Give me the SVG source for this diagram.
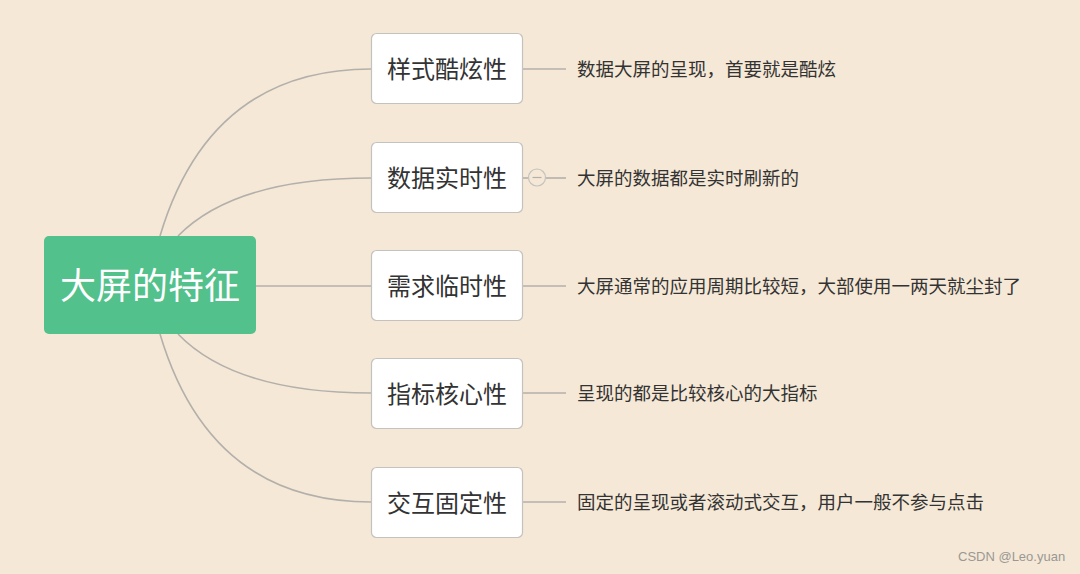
<svg xmlns="http://www.w3.org/2000/svg" width="1080" height="574" viewBox="0 0 1080 574">
<style>
.bg{fill:#f5e8d6}
.conn{fill:none;stroke:#b3b0ab;stroke-width:1.6}
.box{fill:#ffffff;stroke:#c4c2bf;stroke-width:1.2}
.t{font-family:"Noto Sans CJK SC","Noto Sans",sans-serif;fill:#333333}
.bt{font-size:24px}
.lt{font-size:18.5px}
.root{fill:#52c18b}
.rt{font-family:"Noto Sans CJK SC","Noto Sans",sans-serif;font-size:36px;fill:#ffffff}
.wm{font-family:"Liberation Sans",Arial,sans-serif;font-size:13px;fill:#9a9894}
</style>
<rect class="bg" x="0" y="0" width="1080" height="574"/>
<g id="connectors">
<path class="conn" d="M160 236 Q210 69 371 69"/>
<path class="conn" d="M178 236 Q235 178 371 178"/>
<path class="conn" d="M256 286 L371 286"/>
<path class="conn" d="M178 334 Q235 393 371 393"/>
<path class="conn" d="M160 334 Q210 502 371 502"/>
<path class="conn" d="M523 69 L566 69"/>
<path class="conn" d="M546 178 L566 178"/>
<path class="conn" d="M523 178 L528 178"/>
<path class="conn" d="M523 286 L566 286"/>
<path class="conn" d="M523 393 L566 393"/>
<path class="conn" d="M523 502 L566 502"/>
</g>
<g id="root">
<rect class="root" x="44" y="236" width="212" height="98" rx="5"/>
<text class="rt" x="150" y="299" text-anchor="middle">大屏的特征</text>
</g>
<g id="n1">
<rect class="box" x="371.5" y="33.5" width="151" height="70" rx="5"/>
<text class="t bt" x="447" y="77.5" text-anchor="middle">样式酷炫性</text>
</g>
<g id="n2">
<rect class="box" x="371.5" y="142.5" width="151" height="70" rx="5"/>
<text class="t bt" x="447" y="186.5" text-anchor="middle">数据实时性</text>
</g>
<g id="collapse">
<circle cx="537" cy="177.5" r="8.5" fill="#f5e8d6" stroke="#c4c2bf" stroke-width="1.2"/>
<path d="M532.5 177.5 L541.5 177.5" stroke="#b3b0ab" stroke-width="1.2"/>
</g>
<g id="n3">
<rect class="box" x="371.5" y="250.5" width="151" height="70" rx="5"/>
<text class="t bt" x="447" y="294.5" text-anchor="middle">需求临时性</text>
</g>
<g id="n4">
<rect class="box" x="371.5" y="358.5" width="151" height="70" rx="5"/>
<text class="t bt" x="447" y="402.5" text-anchor="middle">指标核心性</text>
</g>
<g id="n5">
<rect class="box" x="371.5" y="467.5" width="151" height="70" rx="5"/>
<text class="t bt" x="447" y="511.5" text-anchor="middle">交互固定性</text>
</g>
<g id="l1"><text class="t lt" x="577" y="76">数据大屏的呈现，首要就是酷炫</text></g>
<g id="l2"><text class="t lt" x="577" y="184.5">大屏的数据都是实时刷新的</text></g>
<g id="l3"><text class="t lt" x="577" y="292.5">大屏通常的应用周期比较短，大部使用一两天就尘封了</text></g>
<g id="l4"><text class="t lt" x="577" y="400">呈现的都是比较核心的大指标</text></g>
<g id="l5"><text class="t lt" x="577" y="508.5">固定的呈现或者滚动式交互，用户一般不参与点击</text></g>
<text class="wm" x="958" y="561">CSDN @Leo.yuan</text>
</svg>
